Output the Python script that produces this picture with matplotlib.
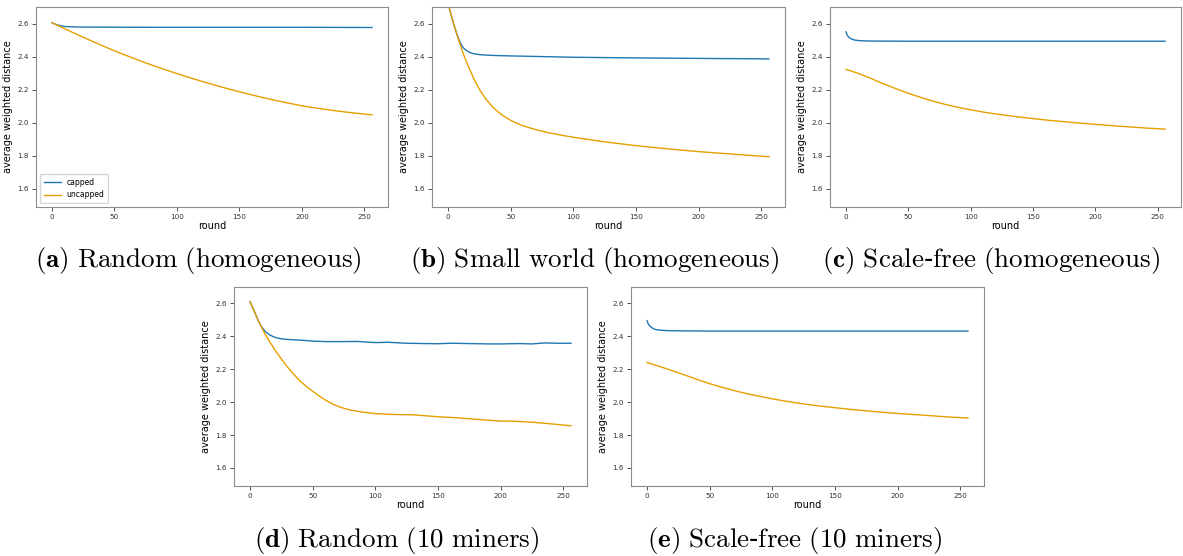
import matplotlib.pyplot as plt

plt.rcParams['mathtext.fontset'] = 'cm'

# --- data (round, average weighted distance) ---
rand_cap_x = [0, 2, 5, 10, 20, 40, 80, 120, 160, 200, 256]
rand_cap_y = [2.605, 2.598, 2.590, 2.582, 2.579, 2.578, 2.577, 2.577, 2.577, 2.577, 2.576]
rand_unc_x = [0, 10, 20, 30, 40, 50, 60, 70, 80, 90, 100, 110, 120, 130, 140, 150,
              160, 170, 180, 190, 200, 210, 220, 230, 240, 250, 256]
rand_unc_y = [2.605, 2.569, 2.534, 2.500, 2.467, 2.435, 2.405, 2.376, 2.348, 2.322, 2.297,
              2.273, 2.250, 2.228, 2.207, 2.187, 2.168, 2.150, 2.133, 2.117, 2.102, 2.090,
              2.079, 2.069, 2.060, 2.052, 2.048]

sw_cap_x = [0, 2, 4, 6, 8, 10, 12, 14, 16, 18, 20, 25, 30, 40, 50, 75, 100, 150, 200, 256]
sw_cap_y = [2.72, 2.665, 2.61, 2.56, 2.515, 2.48, 2.455, 2.44, 2.43, 2.423, 2.418, 2.412,
            2.409, 2.406, 2.404, 2.400, 2.396, 2.392, 2.389, 2.386]
sw_unc_x = [0, 2, 4, 6, 8, 10, 12, 14, 16, 18, 20, 23, 26, 30, 35, 40, 45, 50, 55, 60,
            70, 80, 90, 100, 125, 150, 175, 200, 225, 256]
sw_unc_y = [2.72, 2.665, 2.61, 2.56, 2.51, 2.465, 2.42, 2.38, 2.345, 2.31, 2.275, 2.23,
            2.19, 2.145, 2.10, 2.065, 2.037, 2.014, 1.996, 1.981, 1.958, 1.940, 1.925,
            1.912, 1.884, 1.861, 1.842, 1.825, 1.811, 1.794]

sf_cap_x = [0, 1, 2, 3, 5, 7, 10, 15, 20, 50, 100, 150, 200, 256]
sf_cap_y = [2.550, 2.530, 2.520, 2.512, 2.505, 2.500, 2.497, 2.495, 2.494, 2.493, 2.493, 2.493, 2.493, 2.493]
sf_unc_x = [0, 10, 20, 30, 40, 50, 60, 70, 80, 90, 100, 112, 125, 137, 150, 162, 175,
            187, 200, 212, 225, 240, 256]
sf_unc_y = [2.323, 2.298, 2.268, 2.236, 2.206, 2.178, 2.153, 2.130, 2.110, 2.093, 2.078,
            2.062, 2.048, 2.036, 2.025, 2.015, 2.006, 1.998, 1.990, 1.983, 1.976, 1.968, 1.961]

rm_cap_x = [0, 3, 6, 9, 12, 15, 18, 21, 25, 30, 40, 50, 60, 75, 85, 100, 110, 125, 140,
            150, 160, 175, 190, 200, 215, 225, 235, 245, 256]
rm_cap_y = [2.610, 2.560, 2.505, 2.460, 2.430, 2.412, 2.400, 2.391, 2.385, 2.381, 2.377,
            2.371, 2.368, 2.368, 2.369, 2.362, 2.364, 2.358, 2.356, 2.355, 2.358, 2.356,
            2.354, 2.354, 2.356, 2.354, 2.360, 2.358, 2.358]
rm_unc_x = [0, 3, 6, 9, 12, 15, 18, 21, 25, 30, 35, 40, 45, 50, 55, 60, 65, 70, 75, 80,
            85, 90, 100, 110, 120, 130, 140, 150, 160, 175, 190, 200, 210, 225, 240, 256]
rm_unc_y = [2.610, 2.560, 2.505, 2.457, 2.413, 2.375, 2.340, 2.305, 2.262, 2.212, 2.168,
            2.128, 2.095, 2.066, 2.038, 2.013, 1.992, 1.975, 1.962, 1.952, 1.945, 1.939,
            1.930, 1.926, 1.924, 1.923, 1.917, 1.911, 1.907, 1.899, 1.890, 1.885, 1.884,
            1.878, 1.868, 1.856]

sm_cap_x = [0, 1, 2, 3, 5, 7, 10, 15, 20, 50, 100, 150, 200, 256]
sm_cap_y = [2.495, 2.475, 2.465, 2.457, 2.447, 2.441, 2.438, 2.435, 2.434, 2.432, 2.432, 2.432, 2.432, 2.432]
sm_unc_x = [0, 10, 20, 30, 40, 50, 60, 70, 80, 90, 100, 112, 125, 137, 150, 162, 175,
            187, 200, 212, 225, 240, 256]
sm_unc_y = [2.240, 2.217, 2.192, 2.165, 2.138, 2.112, 2.090, 2.069, 2.051, 2.035, 2.020,
            2.004, 1.989, 1.977, 1.966, 1.956, 1.947, 1.939, 1.931, 1.925, 1.918, 1.910, 1.903]

captions = [
    r'$\mathbf{(a)}\ \mathrm{Random\ (homogeneous)}$',
    r'$\mathbf{(b)}\ \mathrm{Small\ world\ (homogeneous)}$',
    r'$\mathbf{(c)}\ \mathrm{Scale}$-$\mathrm{free\ (homogeneous)}$',
    r'$\mathbf{(d)}\ \mathrm{Random\ (10\ miners)}$',
    r'$\mathbf{(e)}\ \mathrm{Scale}$-$\mathrm{free\ (10\ miners)}$',
]

panels = [
    (rand_cap_x, rand_cap_y, rand_unc_x, rand_unc_y),
    (sw_cap_x, sw_cap_y, sw_unc_x, sw_unc_y),
    (sf_cap_x, sf_cap_y, sf_unc_x, sf_unc_y),
    (rm_cap_x, rm_cap_y, rm_unc_x, rm_unc_y),
    (sm_cap_x, sm_cap_y, sm_unc_x, sm_unc_y),
]

W, H = 1183, 556
# axes boxes in pixels: left, right, top, bottom
boxes = [(36, 388, 7, 207), (432, 785, 7, 207), (830, 1181, 7, 207),
         (234, 587, 287, 486), (631, 984, 287, 486)]
cap_pos = [(198, 261), (595, 261), (991, 261), (397, 540), (795, 540)]

fig = plt.figure(figsize=(W / 100, H / 100), dpi=100)

for i, (cx, cy, ux, uy) in enumerate(panels):
    l, r, t, b = boxes[i]
    ax = fig.add_axes([l / W, 1 - b / H, (r - l) / W, (b - t) / H])
    ax.plot(cx, cy, color='#1f77b4', lw=1.0, label='capped')
    ax.plot(ux, uy, color='#e69f00', lw=1.0, label='uncapped')
    ax.set_ylim(1.49, 2.70)
    ax.set_yticks([1.6, 1.8, 2.0, 2.2, 2.4, 2.6])
    ax.set_xticks([0, 50, 100, 150, 200, 250])
    ax.tick_params(labelsize=5.2, colors='#333333', length=3, width=0.6, pad=2)
    for s in ax.spines.values():
        s.set_color('#8c8c8c')
        s.set_linewidth(0.8)
    ax.set_xlabel('round', fontsize=7, labelpad=1)
    ax.set_ylabel('average weighted distance', fontsize=7, labelpad=3)
    if i == 0:
        ax.legend(loc='lower left', fontsize=5.5, handlelength=2.3,
                  handletextpad=0.7, borderpad=0.5)

    x, y = cap_pos[i]
    fig.text(x / W, 1 - y / H, captions[i], ha='center', va='center',
             fontsize=19.5, family='DejaVu Serif')

fig.savefig('out.png', dpi=100)
